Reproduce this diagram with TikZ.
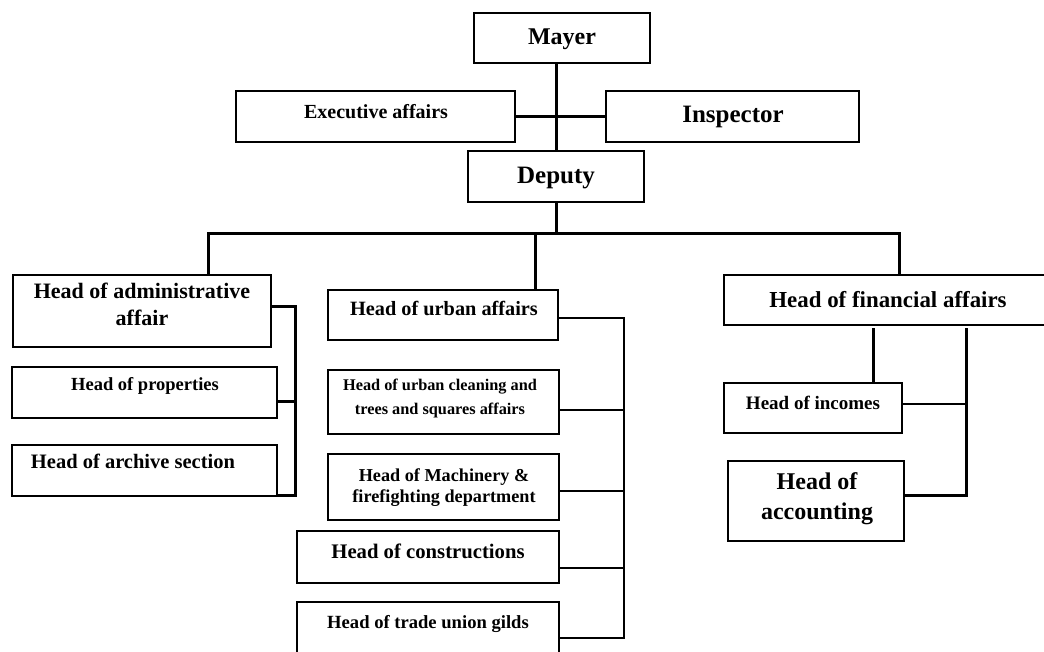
\documentclass[tikz,border=0pt]{standalone}
\usepackage{fontspec}
\setmainfont{Liberation Serif}
\usetikzlibrary{fit}
% bold text at a given size and line spacing
\newcommand{\setfs}[2]{\fontsize{#1}{#2}\selectfont\bfseries}
\begin{document}
\begin{tikzpicture}[x=1pt,y=-1pt,
  box/.style={draw, line width=2pt, inner sep=0pt, rectangle},
  wire/.style={line width=3pt},
  midwire/.style={line width=2.4pt},
  thinwire/.style={line width=1.5pt},
  lbl/.style={inner sep=0pt, align=center},
]
\fill[white] (0,0) rectangle (1044,651);
\useasboundingbox (0,0) rectangle (1044,651);

% ---- boxes ----
\node[box, fit={(474,13) (650,63)}]   (mayer)  {};
\node[box, fit={(236,91) (515,142)}]  (exec)   {};
\node[box, fit={(606,91) (859,142)}]  (insp)   {};
\node[box, fit={(468,151) (644,202)}] (deputy) {};

\node[box, fit={(13,275) (271,347)}]  (admin)  {};
\node[box, fit={(12,367) (277,418)}]  (prop)   {};
\node[box, fit={(12,445) (277,496)}]  (arch)   {};

\node[box, fit={(328,290) (558,340)}] (urban)  {};
\node[box, fit={(328,370) (559,434)}] (clean)  {};
\node[box, fit={(328,454) (559,520)}] (mach)   {};
\node[box, fit={(297,531) (559,583)}] (cons)   {};
\node[box, fit={(297,602) (559,656)}] (trade)  {};

\node[box, fit={(724,275) (1050,325)}] (fin)   {};
\node[box, fit={(724,383) (902,433)}] (inc)    {};
\node[box, fit={(728,461) (904,541)}] (acc)    {};

% ---- labels ----
\node[lbl, anchor=base, font=\setfs{24}{28}] (tmayer) at (562,44) {Mayer};
\node[lbl, anchor=base, font=\setfs{20}{24}] (texec) at (376,118) {Executive affairs};
\node[lbl, anchor=base, font=\setfs{25}{30}] (tinsp) at (733,122) {Inspector};
\node[lbl, anchor=base, font=\setfs{25}{30}] (tdep) at (556,183) {Deputy};

\node[lbl, font=\setfs{22}{27}] (tadmin) at (142,304) {Head of administrative\\affair};
\node[lbl, anchor=base, font=\setfs{18.5}{22}] (tprop) at (145,390) {Head of properties};
\node[lbl, anchor=base, font=\setfs{20.5}{24}] (tarch) at (133,468) {Head of archive section};

\node[lbl, anchor=base, font=\setfs{20.3}{24}] (turban) at (444,315) {Head of urban affairs};
\node[lbl, font=\setfs{16.3}{24}] (tclean) at (440,398) {Head of urban cleaning and\\trees and squares affairs};
\node[lbl, font=\setfs{18.2}{21}] (tmach) at (444,488) {Head of Machinery \&\\firefighting department};
\node[lbl, anchor=base, font=\setfs{20.7}{24}] (tcons) at (428,558) {Head of constructions};
\node[lbl, anchor=base, font=\setfs{18.6}{22}] (ttrade) at (428,628) {Head of trade union gilds};

\node[lbl, anchor=base, font=\setfs{22.9}{27}] (tfin) at (888,307) {Head of financial affairs};
\node[lbl, anchor=base, font=\setfs{19}{23}] (tinc) at (813,409) {Head of incomes};
\node[lbl, font=\setfs{24}{30}] (tacc) at (817,499) {Head of\\accounting};

% ---- top of the chart ----
\draw[wire] (deputy.north |- mayer.south) -- (deputy.north);
\draw[wire] (exec.east) -- (insp.west);

% ---- main distribution line ----
\coordinate (busL)  at (208,233);
\coordinate (busR)  at (899,233);
\coordinate (udrop) at (535,233);
\draw[wire] (deputy.south) -- (deputy.south |- busL);
\draw[wire] (busL |- admin.north) -- (busL) -- (busR) -- (busR |- fin.north);
\draw[wire] (udrop) -- (udrop |- urban.north);

% ---- administrative branch ----
\coordinate (lbt) at (295,306);
\coordinate (lbb) at (295,495);
\draw[wire] ([yshift=5pt]admin.east) -- (lbt) -- (lbb) -- (lbb -| arch.east);
\draw[wire] ([yshift=-8.5pt]prop.east) -| (lbt);

% ---- urban branch ----
\coordinate (ubt) at (624,318);
\coordinate (ubb) at (624,638);
\draw[midwire] ([yshift=-3pt]urban.east) -- (ubt) -- (ubb) -- (ubb -| trade.east);
\draw[midwire] ([yshift=-8pt]clean.east) -| (ubt);
\draw[midwire] ([yshift=-4pt]mach.east) -| (ubt);
\draw[midwire] ([yshift=-11pt]cons.east) -| (ubt);

% ---- financial branch ----
\coordinate (fa) at (873,328);
\coordinate (fb) at (966,328);
\draw[wire] (fa) -- (fa |- inc.north);
\draw[wire] ([yshift=6pt]acc.east) -| (fb);
\draw[thinwire] ([yshift=4pt]inc.east) -| (fb);
\end{tikzpicture}
\end{document}
